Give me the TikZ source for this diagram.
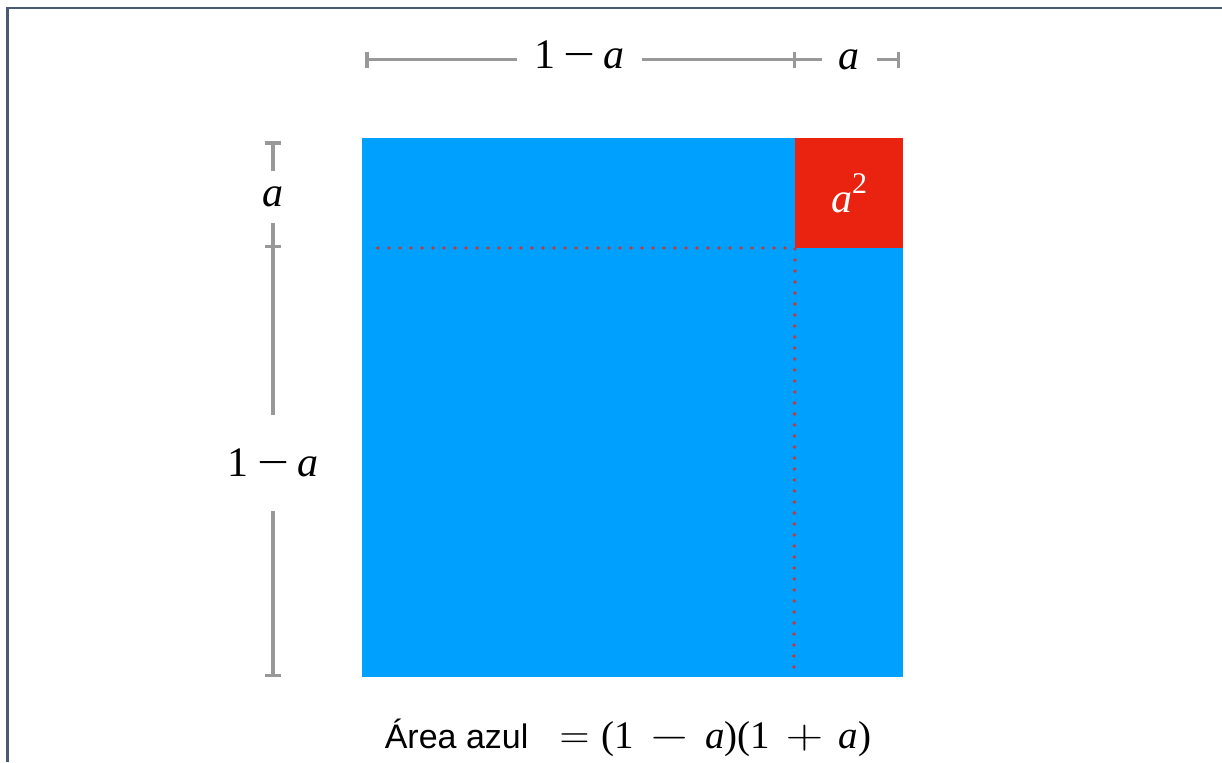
\documentclass[tikz,border=0pt]{standalone}
\usepackage{fontspec}
\setmainfont{Liberation Serif}
\setsansfont{Liberation Sans}
\usepackage{xcolor}
\usepackage{graphicx}
\usepackage{tikz}
\usetikzlibrary{arrows.meta}

\definecolor{azul}{RGB}{0,160,255}
\definecolor{rojo}{RGB}{234,34,16}
\definecolor{rojopunto}{RGB}{192,58,66}
\definecolor{cota}{RGB}{152,152,152}
\definecolor{marco}{RGB}{75,90,115}

\newcommand{\va}{\textit{a}}
\newcommand{\menos}{\hspace{0.2em}\scalebox{1.35}[1]{−}\hspace{0.2em}}
\newcommand{\bop}[1]{\hspace{0.4em}\scalebox{1.25}[1]{$#1$}\hspace{0.4em}}

\begin{document}
\begin{tikzpicture}[
        x=0.5pt, y=-0.5pt,
        every node/.style={align=center, inner sep=0pt, outer sep=0pt},
        cuadro/.style ={rectangle, fill=azul,
                        minimum width=270.5pt, minimum height=269.5pt},
        esquina/.style={rectangle, fill=rojo, text=white,
                        font=\fontsize{21}{25}\selectfont,
                        minimum width=54pt, minimum height=55pt},
        punteado/.style={line width=1.9pt, color=rojopunto, line cap=round,
                        dash pattern=on 0pt off 5.5pt},
        dim/.style    ={line width=1.75pt, color=cota},
        barini/.style ={arrows={Bar[width=8pt]}-},
        barfin/.style ={arrows=-{Bar[width=8pt]}},
        lbl/.style    ={font=\fontsize{21}{25}\selectfont,
                        inner xsep=8.5pt, inner ysep=8pt},
        marcolin/.style={line width=1.4pt, color=marco},
    ]
        \useasboundingbox (0,0) rectangle (1222,762);

        % ===================== Marco =====================
        \draw[marcolin] (7.5,762) -- (7.5,8) -- (1222,8);

        % ===================== Cuadrados =====================
        \node[cuadro]  (sq) at (632.5,407.5) {};
        \node[esquina, anchor=north east] (rq) at (sq.north east)
            {\va\raisebox{0.45em}{\fontsize{15}{18}\selectfont 2}};

        % Lineas punteadas.
        \coordinate (p0) at (378,248);
        \coordinate (p1) at (794,670);
        \draw[punteado] (p0) -- (rq.south west) -- (p1);

        % ===================== Cota superior =====================
        \coordinate (ct0) at (365,59.5);
        \coordinate (ct1) at (796,59.5);
        \coordinate (ct2) at (900,59.5);
        \node[lbl, text depth=4.5pt] (c1a) at (579.5,59.5) {1\menos\va};
        \node[lbl] (ca)  at (849,59.5)   {\va};
        \draw[dim, barini] (ct0) -- (c1a);
        \draw[dim, barfin] (c1a) -- (ct1);
        \draw[dim]         (ct1) -- (ca);
        \draw[dim, barfin] (ca)  -- (ct2);

        % ===================== Cota izquierda =====================
        \coordinate (cl0) at (273,141);
        \coordinate (cl1) at (273,248);
        \coordinate (cl2) at (273,677);
        \node[lbl] (la)  at (273,197) {\va};
        \node[lbl, inner ysep=17pt] (l1a) at (273,463) {1\menos\va};
        \draw[dim, barini] (cl0) -- (la);
        \draw[dim, barfin] (la)  -- (cl1);
        \draw[dim]         (cl1) -- (l1a);
        \draw[dim, barfin] (l1a) -- (cl2);

        % ===================== Formula =====================
        \node[font=\fontsize{19.5}{23}\selectfont, anchor=base] (area) at (628,748)
            {{\sffamily\fontsize{17}{20}\selectfont Área azul}\hspace{0.8em}$=$\hspace{0.3em}(1\bop{-}\va)(1\bop{+}\va)};
    \end{tikzpicture}
\end{document}
